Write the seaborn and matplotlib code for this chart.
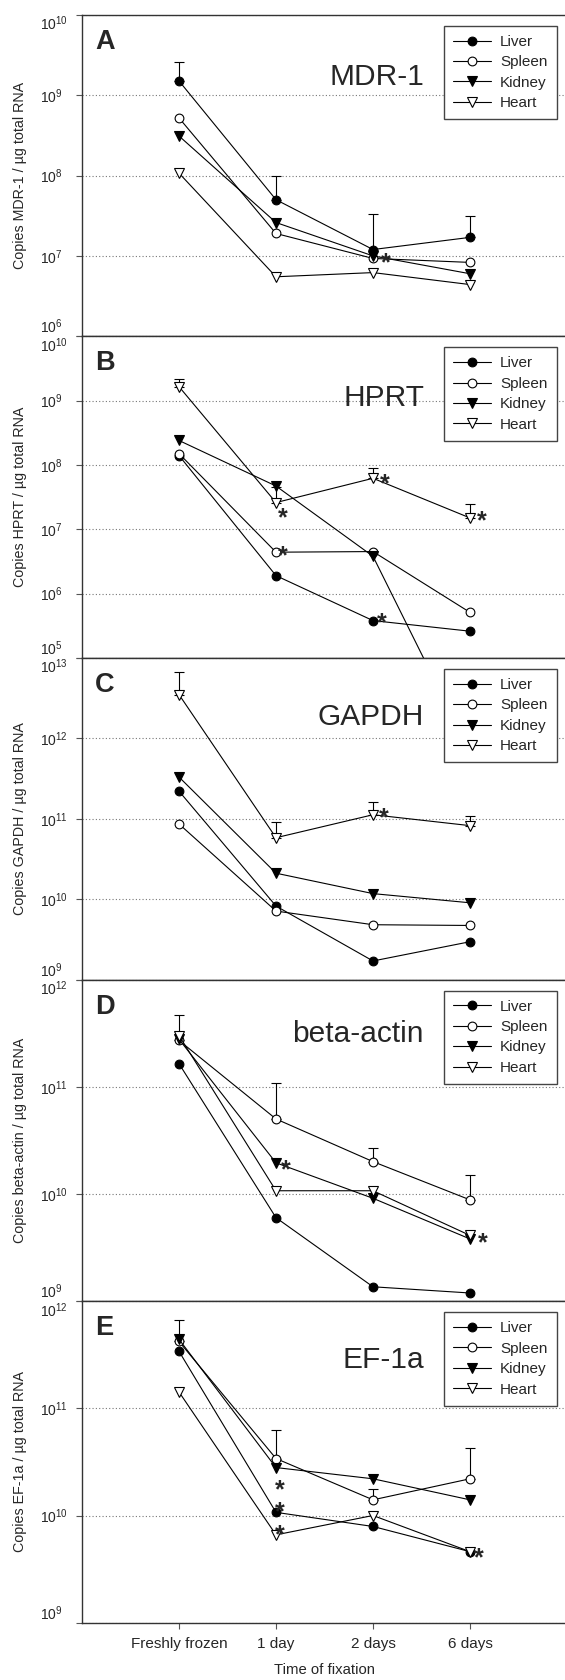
import numpy as np
import pandas as pd
import matplotlib
matplotlib.use("Agg")
import matplotlib.pyplot as plt
import seaborn as sns
from matplotlib.ticker import LogFormatterMathtext, NullLocator, FixedLocator

# ---------------- data ----------------
times = ["Freshly frozen", "1 day", "2 days", "6 days"]
tissues = ["Liver", "Spleen", "Kidney", "Heart"]
genes = ["MDR-1", "HPRT", "GAPDH", "beta-actin", "EF-1a"]
panel_letters = ["A", "B", "C", "D", "E"]
ylim_decades = [(6, 10), (5, 10), (9, 13), (9, 12), (9, 12)]

mdr1_liver = [1.5e9, 5.0e7, 1.2e7, 1.7e7]
mdr1_spleen = [5.2e8, 1.9e7, 9.3e6, 8.3e6]
mdr1_kidney = [3.1e8, 2.6e7, 1.0e7, 6.0e6]
mdr1_heart = [1.07e8, 5.5e6, 6.2e6, 4.4e6]
mdr1_err_tissue = "Liver"
mdr1_err_top = [2.6e9, 1.0e8, 3.3e7, 3.1e7]
mdr1_star_x = [2.13]
mdr1_star_y = [1.1e7]

hprt_liver = [1.4e8, 1.9e6, 3.8e5, 2.6e5]
hprt_spleen = [1.5e8, 4.4e6, 4.5e6, 5.1e5]
hprt_kidney = [2.4e8, 4.7e7, 3.8e6, 3.5e3]
hprt_heart = [1.65e9, 2.6e7, 6.2e7, 1.5e7]
hprt_err_tissue = "Heart"
hprt_err_top = [2.15e9, 4.5e7, 8.9e7, 2.45e7]
hprt_star_x = [1.07, 1.07, 2.12, 2.09, 3.12]
hprt_star_y = [2.2e7, 5.6e6, 7.4e7, 5.1e5, 2.0e7]

gapdh_liver = [2.2e11, 8.2e9, 1.7e9, 2.95e9]
gapdh_spleen = [8.6e10, 7.1e9, 4.8e9, 4.7e9]
gapdh_kidney = [3.3e11, 2.1e10, 1.17e10, 9.0e9]
gapdh_heart = [3.5e12, 5.8e10, 1.12e11, 8.2e10]
gapdh_err_tissue = "Heart"
gapdh_err_top = [6.6e12, 9.0e10, 1.63e11, 1.07e11]
gapdh_star_x = [2.11]
gapdh_star_y = [1.38e11]

actin_liver = [1.64e11, 6.0e9, 1.36e9, 1.19e9]
actin_spleen = [2.7e11, 5.0e10, 2.0e10, 8.8e9]
actin_kidney = [2.77e11, 1.95e10, 9.1e9, 3.8e9]
actin_heart = [3.0e11, 1.07e10, 1.07e10, 4.1e9]
actin_err_tissue = "Spleen"
actin_err_top = [4.7e11, 1.08e11, 2.7e10, 1.5e10]
actin_star_x = [1.10, 3.13]
actin_star_y = [2.1e10, 4.4e9]

ef1a_liver = [3.4e11, 1.07e10, 7.9e9, 4.6e9]
ef1a_spleen = [4.2e11, 3.4e10, 1.4e10, 2.2e10]
ef1a_kidney = [4.4e11, 2.8e10, 2.2e10, 1.4e10]
ef1a_heart = [1.42e11, 6.6e9, 1.0e10, 4.6e9]
ef1a_err_tissue = "Spleen"
ef1a_err_top = [6.6e11, 6.3e10, 1.76e10, 4.3e10]
ef1a_star_x = [1.04, 1.04, 1.04, 3.09]
ef1a_star_y = [2.2e10, 1.37e10, 8.3e9, 5.1e9]

series = [
    [mdr1_liver, mdr1_spleen, mdr1_kidney, mdr1_heart],
    [hprt_liver, hprt_spleen, hprt_kidney, hprt_heart],
    [gapdh_liver, gapdh_spleen, gapdh_kidney, gapdh_heart],
    [actin_liver, actin_spleen, actin_kidney, actin_heart],
    [ef1a_liver, ef1a_spleen, ef1a_kidney, ef1a_heart],
]
err_tissues = [mdr1_err_tissue, hprt_err_tissue, gapdh_err_tissue, actin_err_tissue, ef1a_err_tissue]
err_tops = [mdr1_err_top, hprt_err_top, gapdh_err_top, actin_err_top, ef1a_err_top]
stars_x = [mdr1_star_x, hprt_star_x, gapdh_star_x, actin_star_x, ef1a_star_x]
stars_y = [mdr1_star_y, hprt_star_y, gapdh_star_y, actin_star_y, ef1a_star_y]

# ---------------- style ----------------
sns.set_theme(style="white")
plt.rcParams["font.family"] = ["Liberation Sans", "DejaVu Sans"]
plt.rcParams["mathtext.fontset"] = "custom"
plt.rcParams["mathtext.rm"] = "Liberation Sans"
plt.rcParams["mathtext.it"] = "Liberation Sans:italic"
plt.rcParams["mathtext.bf"] = "Liberation Sans:bold"

marker_style = {
    "Liver": dict(marker="o", markerfacecolor="black", markersize=6.3),
    "Spleen": dict(marker="o", markerfacecolor="white", markersize=6.3),
    "Kidney": dict(marker="v", markerfacecolor="black", markersize=6.8),
    "Heart": dict(marker="v", markerfacecolor="white", markersize=6.8),
}

W, H = 565, 1680
fig = plt.figure(figsize=(W / 100, H / 100), dpi=100)

ax_left_px = 82
ax_width_px = 485
panel_h = 321.6
first_top = 14.7
letter_baseline = 34.0
gene_baseline = [70, 70, 67, 62, 67]
gene_right_px = 424
spine_col = "#333333"

x_pos = np.arange(len(times))

for i, gene in enumerate(genes):
    top = first_top + i * panel_h
    ax = fig.add_axes([ax_left_px / W, 1 - (top + panel_h) / H, ax_width_px / W, panel_h / H])
    ax.set_yscale("log")

    handles = []
    for t, tissue in enumerate(tissues):
        df = pd.DataFrame({"time": x_pos, "copies": series[i][t]})
        sns.lineplot(data=df, x="time", y="copies", ax=ax, color="black",
                     linewidth=0.8, markeredgecolor="black", markeredgewidth=0.8,
                     estimator=None, errorbar=None, zorder=4, label=tissue,
                     legend=False, **marker_style[tissue])
        handles.append(ax.lines[-1])

    # upward-only error bars
    t_idx = tissues.index(err_tissues[i])
    vals = np.array(series[i][t_idx])
    tops = np.array(err_tops[i])
    ax.errorbar(x_pos, vals, yerr=[np.zeros_like(vals), tops - vals], fmt="none",
                ecolor="black", elinewidth=0.8, capsize=3.8, capthick=0.8, zorder=3)

    # significance asterisks
    for sx, sy in zip(stars_x[i], stars_y[i]):
        ax.annotate("*", xy=(sx, sy), xytext=(0, -8), textcoords="offset points",
                    ha="center", va="center", fontsize=18, fontweight="bold", zorder=6)

    lo, hi = ylim_decades[i]
    ax.set_xlim(-1, 4)
    ax.set_ylim(10.0 ** lo, 10.0 ** hi)
    ax.yaxis.set_major_locator(FixedLocator([10.0 ** k for k in range(lo, hi + 1)]))
    ax.yaxis.set_major_formatter(LogFormatterMathtext())
    ax.yaxis.set_minor_locator(NullLocator())
    ax.set_xticks(x_pos)

    ax.grid(axis="y", which="major", linestyle=(0, (1, 2)), color="#777777", linewidth=0.8)
    ax.grid(axis="x", visible=False)
    for s in ["left", "top", "bottom"]:
        ax.spines[s].set_visible(True)
        ax.spines[s].set_color(spine_col)
        ax.spines[s].set_linewidth(1.0)
    ax.spines["right"].set_visible(False)

    ax.tick_params(axis="y", which="major", length=4, width=0.8, color="#555555",
                   direction="out", pad=26, labelsize=10, left=True)
    yticks = ax.yaxis.get_major_ticks()
    for k, tk in enumerate(yticks):
        tk.label1.set_horizontalalignment("left")
    yticks[0].label1.set_verticalalignment("bottom")
    yticks[-1].label1.set_verticalalignment("top")

    ax.tick_params(axis="x", which="major", length=4, width=0.8, color="#555555",
                   direction="out", bottom=True, labelsize=11, pad=6)

    if i == len(genes) - 1:
        ax.set_xticklabels(times)
        ax.set_xlabel("Time of fixation", fontsize=10.7, labelpad=9)
    else:
        ax.set_xticklabels([])
        ax.set_xlabel("")

    ax.set_ylabel(f"Copies {gene} / µg total RNA", fontsize=10.3)
    ax.yaxis.set_label_coords((27.5 - ax_left_px) / ax_width_px, 0.5)

    leg = ax.legend(handles=handles, labels=tissues, loc="upper right",
                    bbox_to_anchor=(556.7 / W, 1 - (top + 11) / H),
                    bbox_transform=fig.transFigure, borderaxespad=0,
                    fontsize=11, handlelength=2.5, handletextpad=0.6,
                    labelspacing=0.42, borderpad=0.6, fancybox=False, framealpha=1)
    leg.get_frame().set_edgecolor("#444444")
    leg.get_frame().set_linewidth(1.0)
    leg.set_zorder(10)

    fig.text(95 / W, 1 - (top + letter_baseline) / H, panel_letters[i],
             fontsize=19.5, fontweight="bold", ha="left", va="baseline")
    fig.text(gene_right_px / W, 1 - (top + gene_baseline[i]) / H, gene,
             fontsize=21.5, ha="right", va="baseline")

fig.savefig("out.png", dpi=100)
